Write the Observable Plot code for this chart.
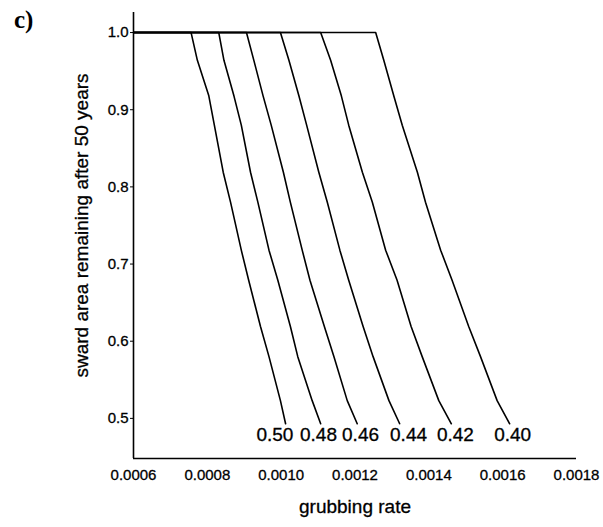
<!DOCTYPE html>
<html>
<head>
<meta charset="utf-8">
<script src="https://cdn.jsdelivr.net/npm/d3@7"></script>
<script src="https://cdn.jsdelivr.net/npm/@observablehq/plot@0.6"></script>
<style>
  html, body { margin: 0; padding: 0; background: #fff; }
  #wrap { position: relative; width: 603px; height: 527px; }
  #panel { position: absolute; left: 14px; top: 6px; font-family: "Liberation Serif", "DejaVu Serif", serif; font-weight: bold; font-size: 25px; color: #000; }
  #wrap svg text { stroke: #000; stroke-width: 0.3px; }
</style>
</head>
<body>
<div id="wrap"><div id="panel">c)</div></div>
<script>
// Grubbing-rate threshold curves (labels) and sward area levels
const thresholds = ["0.50", "0.48", "0.46", "0.44", "0.42", "0.40"];
const rateMin = 0.0006;
const areaLevels = [1.0, 0.964, 0.918, 0.880, 0.819, 0.780, 0.718, 0.679, 0.619, 0.580, 0.523, 0.493];
const rate050 = [0.000756, 0.000773, 0.000804, 0.000819, 0.000843, 0.000863, 0.000892, 0.000912, 0.000944, 0.000967, 0.000998, 0.001012];
const rate048 = [0.000831, 0.000845, 0.000872, 0.000892, 0.000917, 0.000937, 0.000967, 0.000991, 0.001025, 0.001045, 0.001084, 0.001107];
const rate046 = [0.000906, 0.000926, 0.000951, 0.000973, 0.001006, 0.001025, 0.001057, 0.001078, 0.001117, 0.001143, 0.001179, 0.001206];
const rate044 = [0.000998, 0.001021, 0.001048, 0.001069, 0.001102, 0.001125, 0.001159, 0.001183, 0.001222, 0.001249, 0.001292, 0.001321];
const rate042 = [0.001107, 0.001134, 0.001163, 0.001183, 0.001220, 0.001247, 0.001283, 0.001314, 0.001352, 0.001382, 0.001427, 0.001461];
const rate040 = [0.001256, 0.001278, 0.001305, 0.001328, 0.001369, 0.001391, 0.001432, 0.001463, 0.001508, 0.001540, 0.001585, 0.001619];
const labelRate = [0.000983, 0.001101, 0.001215, 0.001345, 0.001472, 0.001627];
const xTicks = [0.0006, 0.0008, 0.0010, 0.0012, 0.0014, 0.0016, 0.0018];
const yTicks = [0.5, 0.6, 0.7, 0.8, 0.9, 1.0];
const xDomain = [0.0006, 0.0018];
const yDomain = [0.448, 1.026];

const series = [rate050, rate048, rate046, rate044, rate042, rate040];
const rows = [];
series.forEach((rates, i) => {
  rows.push({k: thresholds[i], x: rateMin, y: 1.0});
  rates.forEach((r, j) => rows.push({k: thresholds[i], x: r, y: areaLevels[j]}));
});
const labels = thresholds.map((t, i) => ({t, x: labelRate[i]}));

const font = '"Liberation Sans", Arial, Helvetica, sans-serif';
const chart = Plot.plot({
  width: 603,
  height: 527,
  marginLeft: 133,
  marginRight: 27,
  marginTop: 12,
  marginBottom: 69,
  style: {fontFamily: font, background: "#fff", color: "#000", overflow: "visible"},
  x: {domain: xDomain},
  y: {domain: yDomain},
  marks: [
    Plot.axisY({ticks: yTicks, tickFormat: d3.format(".1f"), tickSize: 3, tickPadding: 2, fontSize: 15, label: null}),
    Plot.axisX({ticks: xTicks, tickFormat: d3.format(".4f"), tickSize: 0, tickPadding: 11, fontSize: 15, label: null}),
    Plot.ruleX([xDomain[0]], {strokeWidth: 1.6}),
    Plot.ruleY([yDomain[0]], {strokeWidth: 1.6}),
    Plot.line(rows, {x: "x", y: "y", z: "k", stroke: "#000", strokeWidth: 1.6}),
    Plot.text(labels, {x: "x", text: "t", frameAnchor: "bottom", dy: -18, fontSize: 19}),
    Plot.text(["grubbing rate"], {frameAnchor: "bottom", dy: 54, fontSize: 19}),
    Plot.text(["sward area remaining after 50 years"], {frameAnchor: "left", textAnchor: "middle", rotate: -90, dx: -52, dy: -10, fontSize: 19})
  ]
});
document.getElementById("wrap").prepend(chart);
</script>
</body>
</html>
